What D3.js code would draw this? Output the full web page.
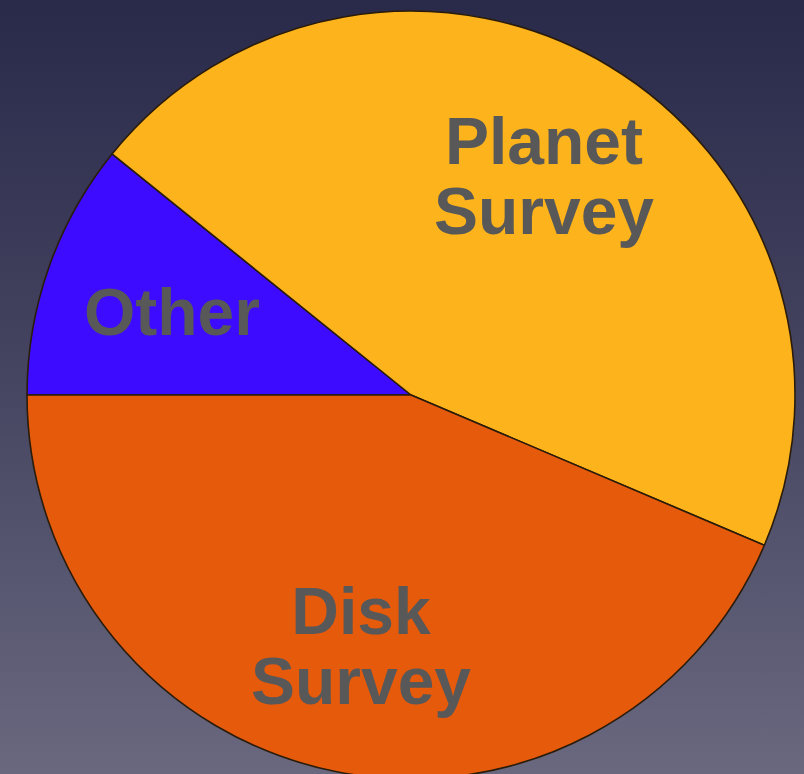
<!DOCTYPE html>
<html>
<head>
<meta charset="utf-8">
<script src="https://cdn.jsdelivr.net/npm/d3@7"></script>
<style>
  html, body { margin: 0; padding: 0; overflow: hidden; }
  svg { display: block; }
</style>
</head>
<body>
<svg id="chart" width="804" height="774"></svg>
<script>
// Data
const categories = ["Other", "Planet Survey", "Disk Survey"];
const values = [10.8, 45.6, 43.6];
const colors = ["#3d0bff", "#fdb31c", "#e65a0c"];
const labelLines = [["Other"], ["Planet", "Survey"], ["Disk", "Survey"]];
// label anchor centers (x, y of first baseline)
const labelPos = [[172, 335], [544, 164], [361, 634]];

const W = 804, H = 774;
const cx = 411, cy = 395, R = 384;

const svg = d3.select("#chart");
const defs = svg.append("defs");
const grad = defs.append("linearGradient")
  .attr("id", "bg").attr("x1", 0).attr("y1", 0).attr("x2", 0).attr("y2", 1);
grad.append("stop").attr("offset", "0%").attr("stop-color", "#29294a");
grad.append("stop").attr("offset", "50%").attr("stop-color", "#464662");
grad.append("stop").attr("offset", "100%").attr("stop-color", "#6a687f");
svg.append("rect").attr("width", W).attr("height", H).attr("fill", "url(#bg)");

const data = categories.map((c, i) => ({ name: c, value: values[i], color: colors[i], lines: labelLines[i], pos: labelPos[i] }));

const pie = d3.pie().sort(null).value(d => d.value)
  .startAngle(-Math.PI / 2).endAngle(3 * Math.PI / 2);
const arc = d3.arc().innerRadius(0).outerRadius(R);

const g = svg.append("g").attr("transform", `translate(${cx},${cy})`);
g.selectAll("path.slice").data(pie(data)).join("path")
  .attr("class", "slice")
  .attr("d", arc)
  .attr("fill", d => d.data.color)
  .attr("stroke", "#2a1c0a")
  .attr("stroke-width", 1.6)
  .attr("stroke-linejoin", "round");

const labels = svg.append("g");
data.forEach(d => {
  d.lines.forEach((line, i) => {
    labels.append("text")
      .attr("x", d.pos[0]).attr("y", d.pos[1] + i * 70)
      .attr("text-anchor", "middle")
      .attr("font-family", "Liberation Sans, Arial, sans-serif")
      .attr("font-weight", "bold")
      .attr("font-size", 66)
      .attr("fill", "#585858")
      .text(line);
  });
});
</script>
</body>
</html>
